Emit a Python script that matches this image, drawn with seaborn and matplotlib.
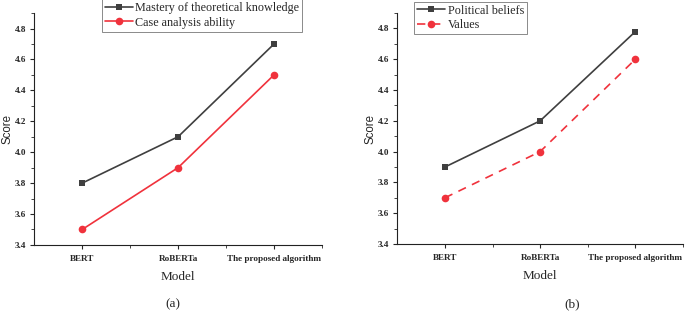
import pandas as pd
import matplotlib
matplotlib.use("Agg")
import matplotlib.pyplot as plt
import seaborn as sns
from matplotlib.ticker import MultipleLocator

# Data
models = ["BERT", "RoBERTa", "The proposed algorithm"]
mastery = [3.8, 4.1, 4.7]
case_analysis = [3.5, 3.9, 4.5]
political = [3.9, 4.2, 4.78]
values = [3.7, 4.0, 4.6]

sns.set_style("ticks")
plt.rcParams["font.family"] = ["Liberation Serif", "DejaVu Serif"]

dark = "#3f3f3f"
red = "#f0323c"

fig = plt.figure(figsize=(6.85, 3.12), dpi=100)
ax_a = fig.add_axes([0.050, 0.215, 0.420, 0.743])
ax_b = fig.add_axes([0.580, 0.218, 0.417, 0.740])

df_a = pd.DataFrame({"Model": models, "m": mastery, "c": case_analysis})
df_b = pd.DataFrame({"Model": models, "p": political, "v": values})


def style_axes(ax):
    ax.set_xlim(-0.5, 2.5)
    ax.set_ylim(3.4, 4.9)
    ax.set_yticks([3.4, 3.6, 3.8, 4.0, 4.2, 4.4, 4.6, 4.8])
    ax.yaxis.set_minor_locator(MultipleLocator(0.1))
    ax.set_xticks([0, 1, 2])
    ax.set_xticks([0.5, 1.5, 2.5], minor=True)
    ax.set_xticklabels(models)
    for lab in ax.get_xticklabels() + ax.get_yticklabels():
        lab.set_fontweight("bold")
        lab.set_fontsize(6.6)
    ax.tick_params(axis="both", which="major", length=3, width=0.8, pad=4)
    ax.tick_params(axis="y", which="major", pad=3)
    ax.tick_params(axis="both", which="minor", length=2, width=0.6)
    ax.set_ylabel("Score", family=["Liberation Sans"], fontsize=8.3, labelpad=1)
    ax.set_xlabel("Model", fontsize=9.5, labelpad=6)
    for s in ["top", "right"]:
        ax.spines[s].set_visible(False)
    for s in ["left", "bottom"]:
        ax.spines[s].set_linewidth(0.8)
        ax.spines[s].set_color("#222222")


sns.lineplot(data=df_a, x="Model", y="m", ax=ax_a, color=dark, marker="s",
             markersize=5, markeredgewidth=0, linewidth=1.2,
             label="Mastery of theoretical knowledge")
sns.lineplot(data=df_a, x="Model", y="c", ax=ax_a, color=red, marker="o",
             markersize=5.5, markeredgewidth=0, linewidth=1.2,
             label="Case analysis ability")
style_axes(ax_a)
ax_a.legend(loc="upper left", bbox_to_anchor=(0.235, 1.06), fontsize=8.7,
            frameon=True, fancybox=False, edgecolor="#555555",
            borderpad=0.25, labelspacing=0.2, handlelength=2.3,
            handletextpad=0.2, borderaxespad=0).get_frame().set_linewidth(0.6)

sns.lineplot(data=df_b, x="Model", y="p", ax=ax_b, color=dark, marker="s",
             markersize=5, markeredgewidth=0, linewidth=1.2,
             label="Political beliefs")
sns.lineplot(data=df_b, x="Model", y="v", ax=ax_b, color=red, marker="o",
             markersize=5.5, markeredgewidth=0, linewidth=1.2,
             linestyle=(0, (5, 4)), label="Values")
style_axes(ax_b)
ax_b.legend(loc="upper left", bbox_to_anchor=(0.06, 1.05), fontsize=8.7,
            frameon=True, fancybox=False, edgecolor="#555555",
            borderpad=0.25, labelspacing=0.2, handlelength=2.3,
            handletextpad=0.2, borderaxespad=0).get_frame().set_linewidth(0.6)

fig.text(0.252, 0.015, "(a)", ha="center", fontsize=9.5)
fig.text(0.836, 0.015, "(b)", ha="center", fontsize=9.5)

fig.savefig("out.png", dpi=100)
